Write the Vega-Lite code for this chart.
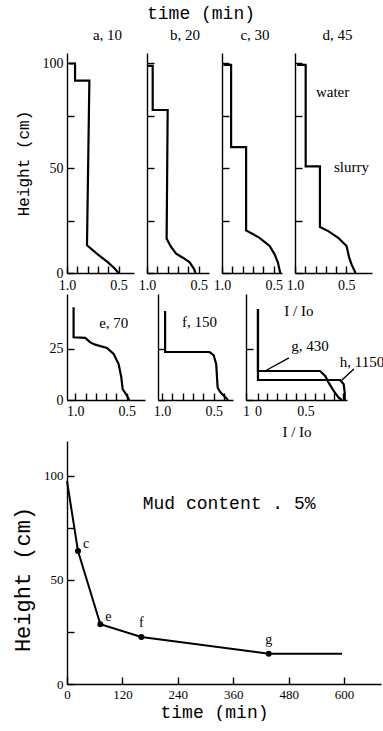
{
  "$schema": "https://vega.github.io/schema/vega-lite/v6.json",
  "padding": {"left": 10, "top": 5, "right": 0, "bottom": 0},
  "background": "white",
  "title": {"text": "time (min)", "font": "Liberation Mono", "fontSize": 18, "fontWeight": "normal", "anchor": "start", "frame": "group", "dx": 80, "offset": 5},
  "spacing": 2,
  "config": {
    "view": {"stroke": null},
    "axis": {"grid": false, "domainColor": "#000", "domainWidth": 1.4, "tickColor": "#000", "tickWidth": 1.4, "tickSize": -7, "labelPadding": 11, "labelFont": "Liberation Serif", "labelFontSize": 14, "labelColor": "#000", "labelFlush": false, "labelOverlap": false, "labelBound": false, "titleFont": "Liberation Mono", "titleFontWeight": "normal", "titleColor": "#000", "titleFontSize": 16},
    "title": {"font": "Liberation Serif", "fontSize": 15, "fontWeight": "normal", "color": "#000", "frame": "group", "offset": 10},
    "line": {"color": "#000", "strokeWidth": 2.2},
    "text": {"font": "Liberation Serif", "fontSize": 14, "color": "#000"}
  },
  "vconcat": [
    {
      "spacing": 13,
      "bounds": "flush",
      "hconcat": [
        {
          "width": 67, "height": 220,
          "title": {"text": "a, 10", "dx": 7},
          "data": {"values": [
            {"i": 0, "x": 0.98, "h": 100}, {"i": 1, "x": 0.922, "h": 100}, {"i": 2, "x": 0.922, "h": 91.8}, {"i": 3, "x": 0.783, "h": 91.8},
            {"i": 4, "x": 0.806, "h": 13.2}, {"i": 5, "x": 0.702, "h": 8.9}, {"i": 6, "x": 0.605, "h": 5.2}, {"i": 7, "x": 0.54, "h": 2.3}, {"i": 8, "x": 0.5, "h": 0}
          ]},
          "mark": {"type": "line"},
          "encoding": {
            "x": {"field": "x", "type": "quantitative", "scale": {"domain": [0.35, 1.0], "reverse": true, "nice": false, "zero": false},
                  "axis": {"values": [1.0, 0.9, 0.8, 0.7, 0.6, 0.5], "labelPadding": 12, "labelExpr": "datum.value == 1 ? '1.0' : datum.value == 0.5 ? '0.5' : ''", "title": null}},
            "y": {"field": "h", "type": "quantitative", "scale": {"domain": [0, 105], "nice": false},
                  "axis": {"values": [0, 25, 50, 75, 100], "labelExpr": "datum.value % 50 == 0 ? datum.label : ''", "title": "Height (cm)", "titleX": -44, "titleBaseline": "middle"}},
            "order": {"field": "i"}
          }
        },
        {
          "width": 62, "height": 220,
          "title": {"text": "b, 20", "dx": 7},
          "data": {"values": [
            {"i": 0, "x": 0.99, "h": 98.9}, {"i": 1, "x": 0.945, "h": 98.9}, {"i": 2, "x": 0.945, "h": 77.8}, {"i": 3, "x": 0.8, "h": 77.8},
            {"i": 4, "x": 0.81, "h": 16.3}, {"i": 5, "x": 0.767, "h": 12.4}, {"i": 6, "x": 0.718, "h": 9.2}, {"i": 7, "x": 0.653, "h": 7.3},
            {"i": 8, "x": 0.589, "h": 5.2}, {"i": 9, "x": 0.547, "h": 2.1}, {"i": 10, "x": 0.53, "h": 0}
          ]},
          "mark": {"type": "line"},
          "encoding": {
            "x": {"field": "x", "type": "quantitative", "scale": {"domain": [0.4, 1.0], "reverse": true, "nice": false, "zero": false},
                  "axis": {"values": [1.0, 0.9, 0.8, 0.7, 0.6, 0.5], "labelPadding": 12, "labelExpr": "datum.value == 1 ? '1.0' : datum.value == 0.5 ? '0.5' : ''", "title": null}},
            "y": {"field": "h", "type": "quantitative", "scale": {"domain": [0, 105], "nice": false},
                  "axis": {"values": [0, 25, 50, 75, 100], "labels": false, "title": null}},
            "order": {"field": "i"}
          }
        },
        {
          "width": 60, "height": 220,
          "title": {"text": "c, 30", "dx": 3},
          "data": {"values": [
            {"i": 0, "x": 0.986, "h": 99.3}, {"i": 1, "x": 0.912, "h": 99.3}, {"i": 2, "x": 0.912, "h": 60.1}, {"i": 3, "x": 0.767, "h": 60.1},
            {"i": 4, "x": 0.767, "h": 20.3}, {"i": 5, "x": 0.637, "h": 16.8}, {"i": 6, "x": 0.54, "h": 12.9}, {"i": 7, "x": 0.491, "h": 8.9},
            {"i": 8, "x": 0.459, "h": 4.9}, {"i": 9, "x": 0.437, "h": 0}
          ]},
          "mark": {"type": "line"},
          "encoding": {
            "x": {"field": "x", "type": "quantitative", "scale": {"domain": [0.42, 1.0], "reverse": true, "nice": false, "zero": false},
                  "axis": {"values": [1.0, 0.9, 0.8, 0.7, 0.6, 0.5], "labelPadding": 12, "labelExpr": "datum.value == 1 ? '1.0' : datum.value == 0.5 ? '0.5' : ''", "title": null}},
            "y": {"field": "h", "type": "quantitative", "scale": {"domain": [0, 105], "nice": false},
                  "axis": {"values": [0, 25, 50, 75, 100], "labels": false, "title": null}},
            "order": {"field": "i"}
          }
        },
        {
          "width": 77, "height": 220,
          "title": {"text": "d, 45", "dx": 4},
          "encoding": {
            "x": {"field": "x", "type": "quantitative", "scale": {"domain": [0.25, 1.0], "reverse": true, "nice": false, "zero": false},
                  "axis": {"values": [1.0, 0.9, 0.8, 0.7, 0.6, 0.5], "labelPadding": 12, "labelExpr": "datum.value == 1 ? '1.0' : datum.value == 0.5 ? '0.5' : ''", "title": null}},
            "y": {"field": "h", "type": "quantitative", "scale": {"domain": [0, 105], "nice": false},
                  "axis": {"values": [0, 25, 50, 75, 100], "labels": false, "title": null}}
          },
          "layer": [
            {
              "data": {"values": [
                {"i": 0, "x": 0.98, "h": 99.3}, {"i": 1, "x": 0.896, "h": 99.3}, {"i": 2, "x": 0.896, "h": 50.9}, {"i": 3, "x": 0.757, "h": 50.9},
                {"i": 4, "x": 0.757, "h": 21.9}, {"i": 5, "x": 0.676, "h": 20}, {"i": 6, "x": 0.579, "h": 16.8}, {"i": 7, "x": 0.498, "h": 12.9},
                {"i": 8, "x": 0.472, "h": 7.3}, {"i": 9, "x": 0.449, "h": 4.1}, {"i": 10, "x": 0.41, "h": 0}
              ]},
              "mark": {"type": "line"},
              "encoding": {"order": {"field": "i"}}
            },
            {
              "data": {"values": [
                {"x": 0.634, "h": 86.3, "t": "water"},
                {"x": 0.45, "h": 50.6, "t": "slurry"}
              ]},
              "mark": {"type": "text", "fontSize": 15},
              "encoding": {"text": {"field": "t"}}
            }
          ]
        }
      ]
    },
    {
      "spacing": 13,
      "bounds": "flush",
      "hconcat": [
        {
          "width": 78, "height": 106,
          "encoding": {
            "x": {"field": "x", "type": "quantitative", "scale": {"domain": [0.323, 1.08], "reverse": true, "nice": false, "zero": false},
                  "axis": {"values": [1.0, 0.9, 0.8, 0.7, 0.6, 0.5], "labelExpr": "datum.value == 1 ? '1.0' : datum.value == 0.5 ? '0.5' : ''", "title": null}},
            "y": {"field": "h", "type": "quantitative", "scale": {"domain": [0, 51.9], "nice": false},
                  "axis": {"values": [0, 25], "title": null}}
          },
          "layer": [
            {
              "data": {"values": [
                {"i": 0, "x": 1.016, "h": 45.4}, {"i": 1, "x": 1.016, "h": 30.7}, {"i": 2, "x": 0.903, "h": 30.4}, {"i": 3, "x": 0.854, "h": 28.2},
                {"i": 4, "x": 0.806, "h": 27.1}, {"i": 5, "x": 0.692, "h": 25.5}, {"i": 6, "x": 0.627, "h": 22.5}, {"i": 7, "x": 0.579, "h": 17.6},
                {"i": 8, "x": 0.553, "h": 11.1}, {"i": 9, "x": 0.54, "h": 5.4}, {"i": 10, "x": 0.498, "h": 2.1}, {"i": 11, "x": 0.476, "h": 0}
              ]},
              "mark": {"type": "line"},
              "encoding": {"order": {"field": "i"}}
            },
            {
              "data": {"values": [{"x": 0.626, "h": 37.9, "t": "e, 70"}]},
              "mark": {"type": "text", "fontSize": 15},
              "encoding": {"text": {"field": "t"}}
            }
          ]
        },
        {
          "width": 75, "height": 106,
          "encoding": {
            "x": {"field": "x", "type": "quantitative", "scale": {"domain": [0.312, 1.04], "reverse": true, "nice": false, "zero": false},
                  "axis": {"values": [1.0, 0.9, 0.8, 0.7, 0.6, 0.5, 0.4], "labelExpr": "datum.value == 1 ? '1.0' : datum.value == 0.5 ? '0.5' : ''", "title": null}},
            "y": {"field": "h", "type": "quantitative", "scale": {"domain": [0, 51.9], "nice": false},
                  "axis": {"values": [0, 25], "labels": false, "title": null}}
          },
          "layer": [
            {
              "data": {"values": [
                {"i": 0, "x": 0.971, "h": 43.6}, {"i": 1, "x": 0.971, "h": 23.5}, {"i": 2, "x": 0.54, "h": 23.5}, {"i": 3, "x": 0.5, "h": 22},
                {"i": 4, "x": 0.475, "h": 17.5}, {"i": 5, "x": 0.461, "h": 6}, {"i": 6, "x": 0.436, "h": 3.9}, {"i": 7, "x": 0.36, "h": 0}
              ]},
              "mark": {"type": "line"},
              "encoding": {"order": {"field": "i"}}
            },
            {
              "data": {"values": [{"x": 0.636, "h": 38, "t": "f, 150"}]},
              "mark": {"type": "text", "fontSize": 15},
              "encoding": {"text": {"field": "t"}}
            }
          ]
        },
        {
          "width": 101, "height": 106,
          "encoding": {
            "x": {"field": "x", "type": "quantitative", "scale": {"domain": [-0.126, 0.937], "nice": false, "zero": false},
                  "axis": {"values": [-0.126, 0, 0.1, 0.2, 0.3, 0.4, 0.5, 0.6, 0.7, 0.8, 0.9], "labelExpr": "datum.value < -0.05 ? '1' : datum.value == 0 ? '0' : datum.value == 0.5 ? '0.5' : ''", "title": "I / Io", "titleFont": "Liberation Serif", "titleFontSize": 15, "titleY": 24, "titleBaseline": "top"}},
            "y": {"field": "h", "type": "quantitative", "scale": {"domain": [0, 51.9], "nice": false},
                  "axis": {"values": [0, 25], "labels": false, "title": null}}
          },
          "layer": [
            {
              "data": {"values": [
                {"s": "g", "i": 0, "x": 0, "h": 44.6}, {"s": "g", "i": 1, "x": 0, "h": 14.2}, {"s": "g", "i": 2, "x": 0.653, "h": 14.2},
                {"s": "g", "i": 3, "x": 0.708, "h": 11.8}, {"s": "g", "i": 4, "x": 0.744, "h": 8.5}, {"s": "g", "i": 5, "x": 0.797, "h": 4.4},
                {"s": "g", "i": 6, "x": 0.849, "h": 1.1}, {"s": "g", "i": 7, "x": 0.884, "h": 0},
                {"s": "h", "i": 0, "x": 0, "h": 44.6}, {"s": "h", "i": 1, "x": 0, "h": 9.8}, {"s": "h", "i": 2, "x": 0.866, "h": 9.8},
                {"s": "h", "i": 3, "x": 0.902, "h": 7.7}, {"s": "h", "i": 4, "x": 0.913, "h": 3.6}, {"s": "h", "i": 5, "x": 0.913, "h": 0}
              ]},
              "mark": {"type": "line"},
              "encoding": {"detail": {"field": "s"}, "order": {"field": "i"}}
            },
            {
              "data": {"values": [
                {"s": "lg", "i": 0, "x": 0.326, "h": 20.6}, {"s": "lg", "i": 1, "x": 0.074, "h": 14.2},
                {"s": "lh", "i": 0, "x": 1.01, "h": 15.2}, {"s": "lh", "i": 1, "x": 0.884, "h": 9.8}
              ]},
              "mark": {"type": "line", "strokeWidth": 1.4},
              "encoding": {"detail": {"field": "s"}, "order": {"field": "i"}}
            },
            {
              "data": {"values": [
                {"x": 0.547, "h": 26.5, "t": "g, 430"},
                {"x": 1.095, "h": 18.6, "t": "h, 1150"},
                {"x": 0.43, "h": 43.6, "t": "I / Io"}
              ]},
              "mark": {"type": "text", "fontSize": 15},
              "encoding": {"text": {"field": "t"}}
            }
          ]
        }
      ]
    },
    {
      "width": 314, "height": 243,
      "encoding": {
        "x": {"field": "t", "type": "quantitative", "scale": {"domain": [0, 680], "nice": false},
              "axis": {"values": [0, 120, 240, 360, 480, 600], "labelFontSize": 13, "title": "time (min)", "titleFontSize": 18, "titleX": 147, "titleY": 19, "titleBaseline": "top", "titleAlign": "center"}},
        "y": {"field": "h", "type": "quantitative", "scale": {"domain": [0, 116.8], "nice": false},
              "axis": {"values": [0, 25, 50, 75, 100], "labelFontSize": 13, "labelExpr": "datum.value % 50 == 0 ? datum.label : ''", "title": "Height (cm)", "titleFontSize": 22, "titleX": -45, "titleY": 138, "titleBaseline": "middle"}}
      },
      "layer": [
        {
          "data": {"values": [
            {"i": 0, "t": 0, "h": 97.6}, {"i": 1, "t": 23.8, "h": 63.9}, {"i": 2, "t": 72.2, "h": 28.7},
            {"i": 3, "t": 161, "h": 22.6}, {"i": 4, "t": 436.8, "h": 14.6}, {"i": 5, "t": 595.6, "h": 14.6}
          ]},
          "mark": {"type": "line", "strokeWidth": 2},
          "encoding": {"order": {"field": "i"}}
        },
        {
          "data": {"values": [
            {"t": 23.8, "h": 63.9, "p": "c"}, {"t": 72.2, "h": 28.7, "p": "e"},
            {"t": 161, "h": 22.6, "p": "f"}, {"t": 436.8, "h": 14.6, "p": "g"}
          ]},
          "layer": [
            {"mark": {"type": "point", "filled": true, "color": "#000", "size": 36, "opacity": 1}},
            {"transform": [{"filter": "datum.p == 'c' || datum.p == 'e'"}],
             "mark": {"type": "text", "dx": 8, "dy": -7, "fontSize": 14}, "encoding": {"text": {"field": "p"}}},
            {"transform": [{"filter": "datum.p == 'f' || datum.p == 'g'"}],
             "mark": {"type": "text", "dx": 0, "dy": -14, "fontSize": 14}, "encoding": {"text": {"field": "p"}}}
          ]
        },
        {
          "data": {"values": [{"t": 351, "h": 86.5, "s": "Mud content . 5%"}]},
          "mark": {"type": "text", "font": "Liberation Mono", "fontSize": 18},
          "encoding": {"text": {"field": "s"}}
        }
      ]
    }
  ]
}
